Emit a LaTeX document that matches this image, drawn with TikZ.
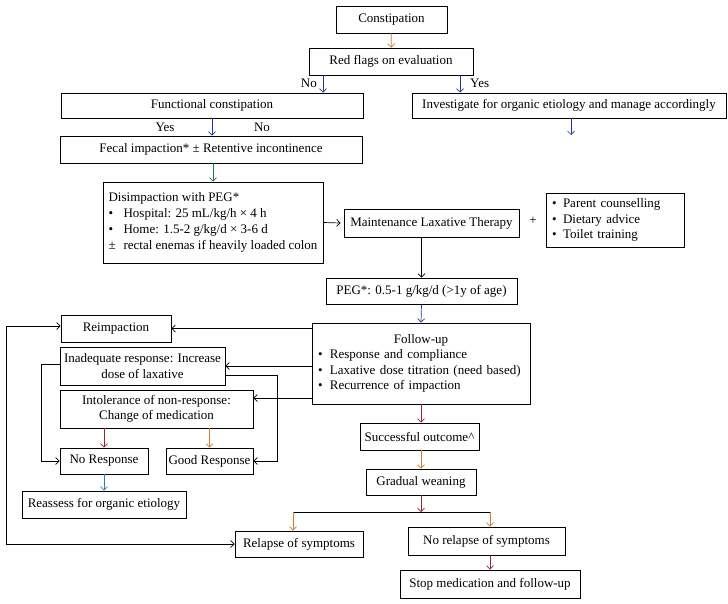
\documentclass[tikz,border=0pt]{standalone}
\usepackage{fontspec}
\setmainfont{Liberation Serif}
\usetikzlibrary{arrows.meta}
\definecolor{ora}{RGB}{205,125,40}
\definecolor{blu}{RGB}{35,55,160}
\definecolor{dred}{RGB}{150,35,55}
\definecolor{teal2}{RGB}{30,115,95}
\definecolor{sky}{RGB}{50,125,185}
\begin{document}
\begin{tikzpicture}[x=1pt,y=-1pt,
  font=\fontsize{13}{15.5}\selectfont,
  box/.style={draw, line width=0.8pt, inner sep=0pt, align=center},
  sz/.style 2 args={minimum width=#1pt, minimum height=#2pt},
  arr/.style={-{Straight Barb[length=3.5pt,width=7pt]}, line width=0.7pt},
  both/.style={{Straight Barb[length=3.5pt,width=7pt]}-{Straight Barb[length=3.5pt,width=7pt]}, line width=0.7pt},
  lab/.style={inner sep=0pt}]
\useasboundingbox (0,0) rectangle (728,603);

% nodes
\node[box,sz={111}{27}] (const) at (391.5,19.5) {Constipation};
\node[box,sz={164}{27}] (red) at (391,61.5) {Red flags on evaluation};
\node[box,sz={302}{25}] (func) at (212,105.5) {Functional constipation};
\node[box,sz={314}{25}] (inv) at (569,105.5) {Investigate for organic etiology and manage accordingly};
\node[box,sz={302}{27}] (fec) at (211,149.5) {Fecal impaction* ± Retentive incontinence};
\node[box,sz={220}{81},align=left,font=\fontsize{13}{16}\selectfont] (dis) at (213,222.5)
  {Disimpaction with PEG*\\
   \makebox[15pt][l]{•}Hospital: 25 mL/kg/h × 4 h\\
   \makebox[15pt][l]{•}Home: 1.5-2 g/kg/d × 3-6 d\\
   \makebox[15pt][l]{±}rectal enemas if heavily loaded colon};
\node[box,sz={175}{28}] (maint) at (431.5,223) {Maintenance Laxative Therapy};
\node[lab] (plus) at (533,221) {+};
\node[box,sz={138}{54},text width=126pt,align=left] (bul) at (615,220)
  {\makebox[11pt][l]{•}Parent counselling\\
   \makebox[11pt][l]{•}Dietary advice\\
   \makebox[11pt][l]{•}Toilet training};
\node[box,sz={191}{26}] (peg) at (421.5,291) {PEG*: 0.5-1 g/kg/d (>1y of age)};
\node[box,sz={218}{81},text width=206pt,align=left] (fol) at (421,363.5)
  {\makebox[206pt]{Follow-up}\\
   \makebox[12pt][l]{•}Response and compliance\\
   \makebox[12pt][l]{•}Laxative dose titration (need based)\\
   \makebox[12pt][l]{•}Recurrence of impaction};
\node[box,sz={110}{27}] (reimp) at (116,328.5) {Reimpaction};
\node[box,sz={165}{38}] (inad) at (142.5,366) {Inadequate response: Increase\\dose of laxative};
\node[box,sz={193}{38}] (intol) at (156.5,409) {Intolerance of non-response:\\Change of medication};
\node[box,sz={88}{26}] (nores) at (104,461) {No Response};
\node[box,sz={87}{26}] (good) at (209.5,461) {Good Response};
\node[box,sz={164}{27}] (reas) at (104,504.5) {Reassess for organic etiology};
\node[box,sz={119}{27}] (succ) at (419.5,436.5) {Successful outcome\textasciicircum};
\node[box,sz={110}{26}] (grad) at (421,482) {Gradual weaning};
\node[box,sz={128}{26}] (relapse) at (299,544) {Relapse of symptoms};
\node[box,sz={157}{28}] (norel) at (486.5,541) {No relapse of symptoms};
\node[box,sz={180}{28}] (stop) at (490,584) {Stop medication and follow-up};

% labels
\node[lab,anchor=east] (no1) at (317,83) {No};
\node[lab,anchor=west] (yes1) at (470,83) {Yes};
\node[lab] (yes2) at (165,127) {Yes};
\node[lab] (no2) at (262,127) {No};

% coordinates
\coordinate (invend) at (571,135);
\coordinate (sl) at (293,512);
\coordinate (sr) at (490,512);
\coordinate (split) at (421,512);
\coordinate (lx) at (6,0);
\coordinate (rw) at ([yshift=2.5pt]reimp.west);
\coordinate (i3) at ([yshift=11pt]intol.east);
\coordinate (il) at ([yshift=2pt]inad.west);
\coordinate (ir) at ([yshift=-9pt]inad.east);

% connectors
\draw[arr,ora] (const) -- (red);
\draw[arr,blu] ([xshift=-68pt]red.south) -- ([xshift=-68pt]red.south |- func.north);
\draw[arr,blu] ([xshift=69pt]red.south) -- ([xshift=69pt]red.south |- inv.north);
\draw[arr,blu] (inv.south -| invend) -- (invend);
\draw[arr,blu] (func.south) -- (func.south |- fec.north);
\draw[arr,teal2] (dis.north |- fec.south) -- (dis.north);
\draw[arr] (dis.east) -- ([xshift=-3pt]maint.west);
\draw[arr] (peg.north |- maint.south) -- (peg.north);
\draw[arr,blu] (peg.south) -- (fol.north);
\draw[arr,dred] (fol.south) -- (fol.south |- succ.north);
\draw[arr,ora] (grad.north |- succ.south) -- (grad.north);
\draw[arr,dred] (grad.south) -- (split);
\draw[line width=0.7pt] (sl) -- (sr);
\draw[arr,ora] (sl) -- (sl |- relapse.north);
\draw[arr,ora] (sr) -- (sr |- norel.north);
\draw[arr,dred] (stop.north |- norel.south) -- (stop.north);

\draw[arr] (fol.west |- reimp.east) -- (reimp.east);
\draw[arr] (fol.west |- inad.east) -- (inad.east);
\draw[arr] (fol.west |- i3) -- (i3);
\draw[arr] (il) -- ++(-18,0) |- (nores.west);
\draw[arr] (ir) -- ++(52,0) |- (good.east);
\draw[arr,dred] (nores.north |- intol.south) -- (nores.north);
\draw[arr,ora] (good.north |- intol.south) -- (good.north);
\draw[arr,sky] (nores.south) -- (nores.south |- reas.north);
\draw[both] (relapse.west) -- (relapse.west -| lx) |- (rw);
\end{tikzpicture}
\end{document}
